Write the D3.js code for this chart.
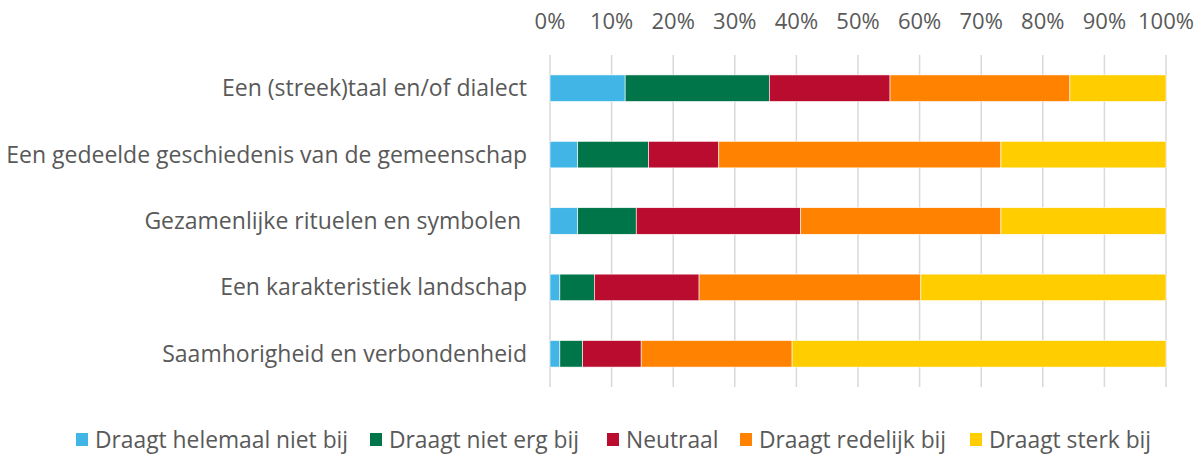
<!DOCTYPE html>
<html>
<head>
<meta charset="utf-8">
<script src="https://cdn.jsdelivr.net/npm/d3@7"></script>
<style>
  body { margin: 0; background: #fff; }
  text { font-family: "Open Sans", "Noto Sans", sans-serif; fill: #595959; }
</style>
</head>
<body>
<svg width="1204" height="456"></svg>
<script>
const width = 1204;
const height = 456;

const categories = [
  'Een (streek)taal en/of dialect',
  'Een gedeelde geschiedenis van de gemeenschap',
  'Gezamenlijke rituelen en symbolen ',
  'Een karakteristiek landschap',
  'Saamhorigheid en verbondenheid'
];
const seriesNames = ['Draagt helemaal niet bij', 'Draagt niet erg bij', 'Neutraal', 'Draagt redelijk bij', 'Draagt sterk bij'];
const colors = ['#41B6E6', '#00754A', '#BA0C2F', '#FF8200', '#FFCD00'];

// percentages per category, in series order
const helemaalNiet = [12.2, 4.5, 4.5, 1.6, 1.6];
const nietErg      = [23.4, 11.5, 9.5, 5.6, 3.7];
const neutraal     = [19.6, 11.4, 26.7, 17.0, 9.5];
const redelijk     = [29.2, 45.8, 32.5, 36.0, 24.5];
const sterk        = [15.6, 26.8, 26.8, 39.8, 60.7];

const tickValues = [0, 10, 20, 30, 40, 50, 60, 70, 80, 90, 100];

const rows = categories.map((c, i) => ({
  cat: c,
  s0: helemaalNiet[i], s1: nietErg[i], s2: neutraal[i], s3: redelijk[i], s4: sterk[i]
}));
const stack = d3.stack().keys(['s0', 's1', 's2', 's3', 's4'])(rows);

const x = d3.scaleLinear().domain([0, 100]).range([550, 1166]);
const y = d3.scaleBand().domain(categories).range([55, 387]).paddingInner(0.6).paddingOuter(0.3);

const svg = d3.select('svg');

// grid
svg.append('g')
  .selectAll('line')
  .data(tickValues)
  .join('line')
    .attr('x1', d => x(d)).attr('x2', d => x(d))
    .attr('y1', 55).attr('y2', 387)
    .attr('stroke', '#d9d9d9')
    .attr('stroke-width', 1.5);

// top axis labels
svg.append('g')
  .selectAll('text')
  .data(tickValues)
  .join('text')
    .attr('x', d => x(d))
    .attr('y', 29)
    .attr('text-anchor', 'middle')
    .style('font-size', '22px')
    .text(d => d + '%');

// bars
svg.append('g')
  .selectAll('g')
  .data(stack)
  .join('g')
    .attr('fill', (d, i) => colors[i])
  .selectAll('rect')
  .data(d => d)
  .join('rect')
    .attr('x', d => x(d[0]))
    .attr('y', d => y(d.data.cat))
    .attr('width', d => x(d[1]) - x(d[0]))
    .attr('height', y.bandwidth())
    .attr('stroke', '#fff')
    .attr('stroke-width', 0.6);

// category labels
svg.append('g')
  .selectAll('text')
  .data(categories)
  .join('text')
    .attr('x', 527)
    .attr('y', d => y(d) + y.bandwidth() / 2)
    .attr('dy', '0.35em')
    .attr('text-anchor', 'end')
    .style('font-size', '23px')
    .style('white-space', 'pre')
    .text(d => d);

// legend
const legendX = [76, 370, 607, 740, 970];
const legend = svg.append('g')
  .selectAll('g')
  .data(seriesNames)
  .join('g')
    .attr('transform', (d, i) => `translate(${legendX[i]},440)`);
legend.append('rect')
  .attr('x', 0).attr('y', -7)
  .attr('width', 12).attr('height', 13)
  .attr('fill', (d, i) => colors[i]);
legend.append('text')
  .attr('x', 19).attr('y', 0)
  .attr('dy', '0.35em')
  .style('font-size', '22.8px')
  .text(d => d);
</script>
</body>
</html>
